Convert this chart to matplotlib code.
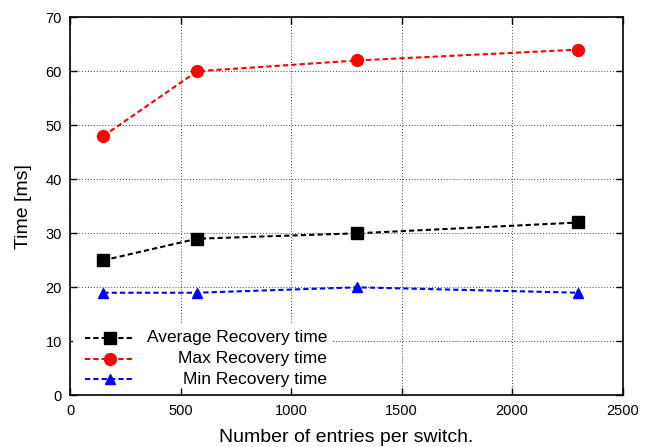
"""
Recovery time vs. number of flow entries per switch.
"""

import matplotlib
matplotlib.use('Agg')
import matplotlib.pyplot as plt
from matplotlib.lines import Line2D
from matplotlib.patches import Rectangle

# data
entries = [150, 575, 1300, 2300]
avg_recovery = [25, 29, 30, 32]
max_recovery = [48, 60, 62, 64]
min_recovery = [19, 19, 20, 19]

series = [
    ('Average Recovery time', avg_recovery, 'black', 's', 8.5),
    ('Max Recovery time', max_recovery, 'red', 'o', 8.5),
    ('Min Recovery time', min_recovery, 'blue', '^', 7.5),
]

plt.rcParams['font.family'] = ['Liberation Sans', 'DejaVu Sans']

fig = plt.figure(figsize=(6.53, 4.47), dpi=100)
ax = fig.add_axes([0.1075, 0.1155, 0.846, 0.846])

for label, values, color, marker, ms in series:
    ax.plot(entries, values, color=color, linestyle=(0, (2.5, 1.5)), linewidth=1.5,
            marker=marker, markersize=ms, zorder=3)

ax.set_xlim(0, 2500)
ax.set_ylim(0, 70)
ax.set_xticks(range(0, 2501, 500))
ax.set_yticks(range(0, 71, 10))
ax.tick_params(direction='in', top=True, right=True, length=5, width=1,
               labelsize=10.5, pad=6)
ax.grid(True, color='black', linestyle=(0, (1, 2)), linewidth=0.7, alpha=0.75)
for sp in ax.spines.values():
    sp.set_linewidth(1.2)

ax.set_xlabel('Number of entries per switch.', fontsize=14, labelpad=8)
ax.set_ylabel('Time [ms]', fontsize=14, labelpad=10)

# gnuplot-style key: handle on the left, label right-aligned, white box
ax.add_patch(Rectangle((0.005, 0.02), 0.47, 0.17, transform=ax.transAxes,
                       facecolor='white', edgecolor='none', zorder=2.5))
row_y = [0.153, 0.097, 0.042]
for (label, values, color, marker, ms), y in zip(series, row_y):
    ax.add_line(Line2D([0.027, 0.118], [y, y], transform=ax.transAxes,
                       color=color, linestyle=(0, (2.5, 1.5)), linewidth=1.5,
                       zorder=4))
    ax.add_line(Line2D([0.0725], [y], transform=ax.transAxes, color=color,
                       marker=marker, markersize=ms, linestyle='none',
                       zorder=4))
    ax.text(0.465, y, label, transform=ax.transAxes, ha='right', va='center',
            fontsize=12.5, zorder=4)

fig.savefig('out.png', dpi=100)
